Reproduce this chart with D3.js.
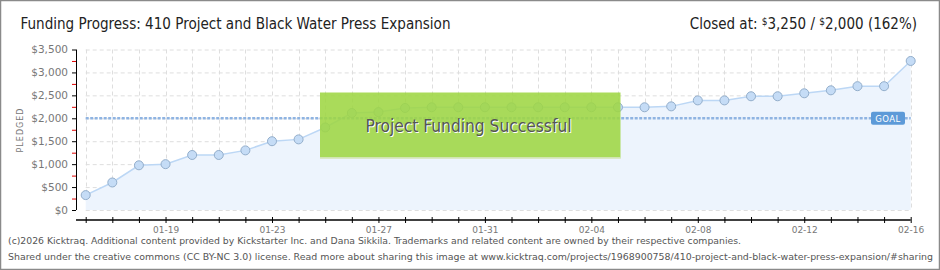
<!DOCTYPE html>
<html>
<head>
<meta charset="utf-8">
<script src="https://cdn.jsdelivr.net/npm/d3@7"></script>
<style>
  body { margin: 0; background: #fff; }
  svg { display: block; }
</style>
</head>
<body>
<svg width="940" height="270"></svg>
<script>
// Chart data.
const dates = ["01-16","01-17","01-18","01-19","01-20","01-21","01-22","01-23","01-24","01-25",
               "01-26","01-27","01-28","01-29","01-30","01-31","02-01","02-02","02-03","02-04",
               "02-05","02-06","02-07","02-08","02-09","02-10","02-11","02-12","02-13","02-14",
               "02-15","02-16"];
const pledged = [325, 600, 975, 1000, 1200, 1200, 1300, 1500, 1540, 1800,
                 2115, 2135, 2225, 2240, 2240, 2240, 2240, 2240, 2240, 2240,
                 2240, 2240, 2260, 2390, 2390, 2480, 2480, 2545, 2610, 2700,
                 2700, 3250];
const tickLabels = ["01-19","01-23","01-27","01-31","02-04","02-08","02-12","02-16"];
const yTicks = [0, 500, 1000, 1500, 2000, 2500, 3000, 3500];
const yMinorTicks = [250, 750, 1250, 1750, 2250, 2750, 3250];
const goal = 2000;

const svg = d3.select("svg");
const W = +svg.attr("width"), H = +svg.attr("height");
const narrow = "'DejaVu Sans Condensed', 'DejaVu Sans', sans-serif";

// frame
svg.append("rect").attr("x", 0.5).attr("y", 0.5).attr("width", W - 1).attr("height", H - 1)
  .attr("fill", "#fff").attr("stroke", "#8a8a8a").attr("stroke-width", 1.5);

const x = d3.scalePoint().domain(dates).range([85.7, 910.7]);
const y = d3.scaleLinear().domain([0, 3500]).range([210, 49.5]);

// grid
const grid = svg.append("g").attr("stroke", "#dedede").attr("stroke-dasharray", "4,3");
grid.selectAll("line.h").data(yTicks).join("line")
  .attr("x1", x.range()[0]).attr("x2", x.range()[1])
  .attr("y1", d => y(d) + 0.5).attr("y2", d => y(d) + 0.5);
grid.selectAll("line.v").data(dates).join("line")
  .attr("x1", d => Math.round(x(d)) + 0.5).attr("x2", d => Math.round(x(d)) + 0.5)
  .attr("y1", y(3500)).attr("y2", y(0));

// area + line
const series = dates.map((d, i) => ({ d: d, v: pledged[i] }));
svg.append("path").datum(series)
  .attr("fill", "#edf4fd")
  .attr("d", d3.area().x(p => x(p.d)).y0(y(0)).y1(p => y(p.v)));
svg.append("path").datum(series)
  .attr("fill", "none").attr("stroke", "#bcd7f5").attr("stroke-width", 1.5)
  .attr("d", d3.line().x(p => x(p.d)).y(p => y(p.v)));

// goal line
svg.append("line")
  .attr("x1", x.range()[0]).attr("x2", x.range()[1])
  .attr("y1", y(goal)).attr("y2", y(goal))
  .attr("stroke", "#8fb4e2").attr("stroke-width", 2.5).attr("stroke-dasharray", "3,1.5");

// points
svg.append("g").selectAll("circle").data(series).join("circle")
  .attr("cx", p => x(p.d)).attr("cy", p => y(p.v)).attr("r", 4.5)
  .attr("fill", "#c5dcf6").attr("stroke", "#93aecb").attr("stroke-width", 1);

// GOAL badge
const gb = svg.append("g").attr("transform", `translate(871,${y(goal) - 6.5})`);
gb.append("rect").attr("width", 34).attr("height", 13).attr("rx", 2)
  .attr("fill", "#5d9ad8");
gb.append("text").attr("x", 17).attr("y", 10).attr("text-anchor", "middle")
  .attr("font-family", "DejaVu Sans").attr("font-size", 8.5).attr("fill", "#fff")
  .attr("letter-spacing", 0.5).text("GOAL");

// y axis
const yAxis = svg.append("g").attr("transform", "translate(76,0)")
  .call(d3.axisLeft(y).tickValues(yTicks).tickSize(4).tickPadding(4)
    .tickFormat(d => "$" + d3.format(",")(d)));
yAxis.select(".domain").attr("stroke", "#000").attr("d", `M0.5,${y(3500)}V${y(0)}`);
yAxis.selectAll(".tick line").attr("stroke", "#000");
yAxis.selectAll(".tick text").attr("fill", "#777").attr("font-size", 10.5)
  .attr("font-family", "DejaVu Sans");
const yMinor = svg.append("g").attr("transform", "translate(76,0)")
  .call(d3.axisLeft(y).tickValues(yMinorTicks).tickSize(4).tickFormat(""));
yMinor.select(".domain").remove();
yMinor.selectAll(".tick line").attr("stroke", "#e00000");

// x axis
const xAxis = svg.append("g").attr("transform", "translate(0,220)")
  .call(d3.axisBottom(x).tickSize(3).tickPadding(4)
    .tickFormat(d => tickLabels.includes(d) ? d : ""));
xAxis.select(".domain").attr("stroke", "#000").attr("stroke-width", 1.5)
  .attr("d", `M76,0H${x.range()[1]}`);
xAxis.selectAll(".tick line").attr("stroke", "#000").attr("y1", -3).attr("y2", 3);
xAxis.selectAll(".tick text").attr("fill", "#777").attr("font-size", 9)
  .attr("font-family", "DejaVu Sans");

// y label
svg.append("text").attr("transform", "translate(23,130) rotate(-90)")
  .attr("text-anchor", "middle").attr("font-family", "DejaVu Sans").attr("font-size", 8)
  .attr("letter-spacing", 1).attr("fill", "#777").text("PLEDGED");

// success banner
svg.append("rect").attr("x", 320).attr("y", 92.5).attr("width", 300.5).attr("height", 66)
  .attr("fill", "#9ed643").attr("fill-opacity", 0.88);
svg.append("line").attr("x1", 320).attr("x2", 620.5).attr("y1", 158).attr("y2", 158)
  .attr("stroke", "#dfe9cf").attr("stroke-width", 1.5);
svg.append("text").attr("x", 469.5).attr("y", 132.5).attr("text-anchor", "middle")
  .attr("font-family", narrow).attr("font-size", 18)
  .attr("textLength", 206).attr("lengthAdjust", "spacingAndGlyphs")
  .attr("fill", "#fff").text("Project Funding Successful");
svg.append("text").attr("x", 468.5).attr("y", 131.5).attr("text-anchor", "middle")
  .attr("font-family", narrow).attr("font-size", 18)
  .attr("textLength", 206).attr("lengthAdjust", "spacingAndGlyphs")
  .attr("fill", "#555").text("Project Funding Successful");

// title
svg.append("text").attr("x", 20.5).attr("y", 29)
  .attr("font-family", narrow).attr("font-size", 16.5)
  .attr("textLength", 430).attr("lengthAdjust", "spacingAndGlyphs")
  .attr("fill", "#222").text("Funding Progress: 410 Project and Black Water Press Expansion");

// closed at
const closed = svg.append("text").attr("x", 917).attr("y", 29).attr("text-anchor", "end")
  .attr("font-family", narrow).attr("font-size", 15).attr("fill", "#222");
closed.append("tspan").text("Closed at:  ");
closed.append("tspan").attr("font-size", 10).attr("dy", -4).text("$");
closed.append("tspan").attr("dy", 4).text("3,250 /  ");
closed.append("tspan").attr("font-size", 10).attr("dy", -4).text("$");
closed.append("tspan").attr("dy", 4).text("2,000 (162%)");

// footer
const foot = svg.append("g").attr("font-family", narrow)
  .attr("font-size", 9).attr("fill", "#555");
foot.append("text").attr("x", 8).attr("y", 244)
  .attr("textLength", 733).attr("lengthAdjust", "spacingAndGlyphs")
  .text("(c)2026 Kicktraq. Additional content provided by Kickstarter Inc. and Dana Sikkila. Trademarks and related content are owned by their respective companies.");
foot.append("text").attr("x", 8).attr("y", 260)
  .attr("textLength", 925).attr("lengthAdjust", "spacingAndGlyphs")
  .text("Shared under the creative commons (CC BY-NC 3.0) license. Read more about sharing this image at www.kicktraq.com/projects/1968900758/410-project-and-black-water-press-expansion/#sharing");
</script>
</body>
</html>
